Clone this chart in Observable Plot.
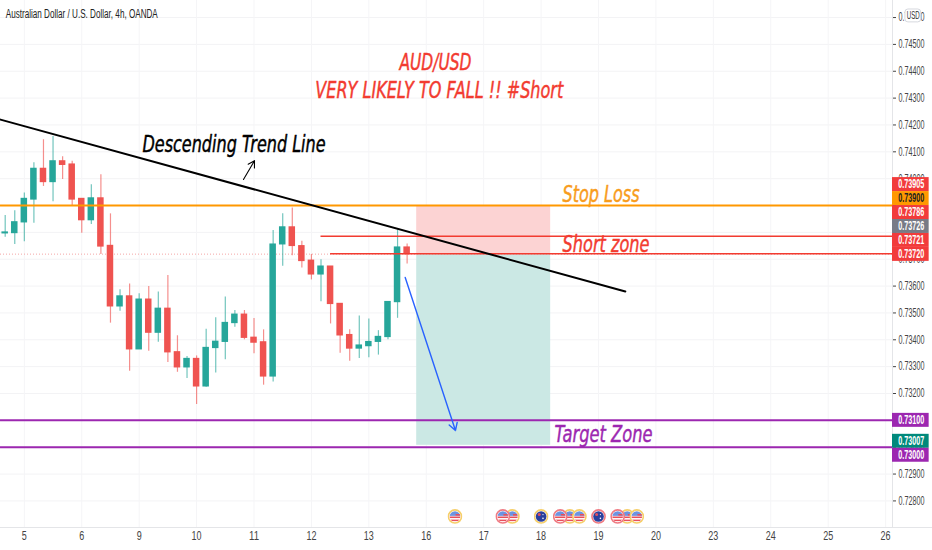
<!DOCTYPE html>
<html><head><meta charset="utf-8">
<script src="https://cdn.jsdelivr.net/npm/d3@7"></script>
<script src="https://cdn.jsdelivr.net/npm/@observablehq/plot@0.6"></script>
<style>html,body{margin:0;padding:0;background:#fff}svg{display:block}</style>
</head><body><div id="c"></div>
<script>
const opens  = [0.73796,0.73797,0.73837,0.73922,0.74037,0.73987,0.74065,0.74053,0.73925,0.73845,0.73927,0.73750,0.73524,0.73562,0.73364,0.73550,0.73426,0.73516,0.73354,0.73297,0.73329,0.73226,0.73369,0.73392,0.73462,0.73494,0.73408,0.73391,0.73263,0.73755,0.73819,0.73749,0.73695,0.73643,0.73673,0.73534,0.73418,0.73367,0.73376,0.73392,0.73410,0.73540,0.73744];
const closes = [0.73800,0.73838,0.73925,0.74037,0.73987,0.74065,0.74051,0.73922,0.73845,0.73927,0.73747,0.73524,0.73562,0.73364,0.73550,0.73426,0.73516,0.73353,0.73297,0.73329,0.73226,0.73370,0.73393,0.73463,0.73494,0.73407,0.73389,0.73263,0.73755,0.73819,0.73749,0.73693,0.73643,0.73673,0.73533,0.73416,0.73367,0.73379,0.73392,0.73411,0.73541,0.73744,0.73719];
const highs  = [0.73863,0.73881,0.73947,0.74059,0.74145,0.74157,0.74082,0.74065,0.73925,0.73977,0.74015,0.73869,0.73586,0.73608,0.73571,0.73598,0.73578,0.73639,0.73415,0.73338,0.73340,0.73439,0.73482,0.73559,0.73509,0.73509,0.73479,0.73437,0.73807,0.73869,0.73891,0.73767,0.73718,0.73698,0.73673,0.73534,0.73437,0.73489,0.73477,0.73434,0.73541,0.73809,0.73757];
const lows   = [0.73782,0.73755,0.73765,0.73834,0.73971,0.73914,0.73997,0.73900,0.73797,0.73829,0.73718,0.73462,0.73506,0.73283,0.73364,0.73357,0.73391,0.73315,0.73279,0.73256,0.73159,0.73223,0.73276,0.73326,0.73447,0.73400,0.73348,0.73231,0.73243,0.73674,0.73713,0.73667,0.73623,0.73542,0.73459,0.73350,0.73320,0.73330,0.73333,0.73343,0.73400,0.73480,0.73682];
const candles = opens.map((o,i)=>({i,o,c:closes[i],h:highs[i],l:lows[i]}));

const dayBars = [2,8,14,20,26,32,38,44,50,56,62,68,74,80,86,92];
const dayLabels = ["5","6","9","10","11","12","13","16","17","18","19","20","23","24","25","26"];
const priceTicks = [0.728,0.729,0.730,0.731,0.732,0.733,0.734,0.735,0.736,0.737,0.738,0.739,0.740,0.741,0.742,0.743,0.744,0.745,0.746];

const levels = [
 {p:0.7390,x1:-0.49,c:"#ff9800",w:2},
 {p:0.73786,x1:33,c:"#f23b30",w:1.5},
 {p:0.7372,x1:34,c:"#f23b30",w:1.5},
 {p:0.7310,x1:-0.49,c:"#9c27b0",w:2},
 {p:0.7300,x1:-0.49,c:"#9c27b0",w:2}
];
const priceTags = [
 {t:"0.73905",p:0.73978,bg:"#f23b3b",fg:"#fff"},
 {t:"0.73900",p:0.73926,bg:"#ff9800",fg:"#222"},
 {t:"0.73786",p:0.73874,bg:"#f23b3b",fg:"#fff"},
 {t:"0.73726",p:0.73822,bg:"#787b86",fg:"#fff"},
 {t:"0.73721",p:0.73770,bg:"#f23b3b",fg:"#fff"},
 {t:"0.73720",p:0.73718,bg:"#f23b3b",fg:"#fff"},
 {t:"0.73100",p:0.73100,bg:"#9c27b0",fg:"#fff"},
 {t:"0.73007",p:0.73022,bg:"#00897b",fg:"#fff"},
 {t:"0.73000",p:0.72970,bg:"#9c27b0",fg:"#fff"}
];
const notes = [
 {t:"Descending Trend Line",i:14.35,p:0.74127,c:"#000"},
 {t:"Stop Loss",i:58.24,p:0.73941,c:"#f89c1c"},
 {t:"Short zone",i:58.24,p:0.73755,c:"#f23b30"},
 {t:"Target Zone",i:57.4,p:0.73047,c:"#9c27b0"},
 {t:"AUD/USD",i:41.2,p:0.74433,c:"#f23b30"},
 {t:"VERY LIKELY TO FALL !! #Short",i:32.4,p:0.74328,c:"#f23b30"}
];
const noteWidths = {"Descending Trend Line":183,"Stop Loss":77,"Short zone":87,"Target Zone":98,"AUD/USD":72,"VERY LIKELY TO FALL !! #Short":248,"Australian Dollar / U.S. Dollar, 4h, OANDA":152,"USD":13};
const usEvents = [47,53,59,60,65,66];
const usHigh = [52,58,64];
const auEvents = [56,62];

const flag = (kind, ring) => {
  const body = kind === "au"
    ? `<circle cx='12' cy='12' r='8.5' fill='#2a3f9d'/><circle cx='9' cy='9' r='2.4' fill='#e05060'/><circle cx='15' cy='15' r='1.3' fill='#fff'/><circle cx='15' cy='9' r='1' fill='#fff'/>`
    : `<clipPath id='k'><circle cx='12' cy='12' r='8.5'/></clipPath><g clip-path='url(#k)'><rect width='24' height='24' fill='#fff'/><rect y='12' width='24' height='2.5' fill='#e8505b'/><rect y='17' width='24' height='2.5' fill='#e8505b'/><rect y='3' width='24' height='8' fill='#6d93e0'/><rect x='13' y='8' width='11' height='2.5' fill='#e8505b'/></g>`;
  const svg = `<svg xmlns='http://www.w3.org/2000/svg' width='24' height='24'><circle cx='12' cy='12' r='10.5' fill='#fff' stroke='${ring}' stroke-width='2.6'/>${body}</svg>`;
  return "data:image/svg+xml," + encodeURIComponent(svg);
};

const XMIN=-0.491, XMAX=92.72, YBOT=0.72701, YTOP=0.746635;
const xTagL=92.72, xTagR=96.55, tagH=0.00026;
const font = "'Liberation Sans',sans-serif";

const chart = Plot.plot({
  width:932, height:550, marginTop:0, marginLeft:0, marginRight:40, marginBottom:23,
  style:{background:"#fff",fontFamily:font},
  x:{type:"linear",domain:[XMIN,XMAX]},
  y:{type:"linear",domain:[YBOT,YTOP]},
  marks:[
    Plot.ruleY(priceTicks,{stroke:"#f3f3f5",strokeWidth:1}),
    Plot.ruleX(dayBars,{stroke:"#f5f5f7",strokeWidth:1}),
    Plot.rect([{a:43,b:57,p1:0.7372,p2:0.7390}],{x1:"a",x2:"b",y1:"p1",y2:"p2",fill:"#fcd3d3"}),
    Plot.rect([{a:43,b:57,p1:0.73007,p2:0.7372}],{x1:"a",x2:"b",y1:"p1",y2:"p2",fill:"#cbe8e4"}),
    Plot.ruleY([0.73719],{stroke:"#f4a6a6",strokeWidth:1,strokeDasharray:"1,2"}),
    Plot.axisX({ticks:dayBars,anchor:"bottom",tickFormat:d=>dayLabels[dayBars.indexOf(d)],tickSize:0,tickPadding:4,fontSize:12,color:"#444"}),
    Plot.axisY({ticks:priceTicks,anchor:"right",tickFormat:d3.format(".5f"),tickSize:3,tickPadding:3,fontSize:12,color:"#444",label:null}),
    Plot.ruleX([XMAX],{stroke:"#e4e5e8"}),
    Plot.ruleY([YBOT],{x1:XMIN,x2:XMAX+4.3,stroke:"#e4e5e8"}),
    Plot.ruleX(candles,{x:"i",y1:"l",y2:"h",stroke:d=>d.c>=d.o?"#26a69a":"#ef5350",strokeOpacity:0.65,strokeWidth:1.2}),
    Plot.rect(candles,{x1:d=>d.i-0.34,x2:d=>d.i+0.34,y1:d=>Math.min(d.o,d.c),y2:d=>Math.max(d.o,d.c),fill:d=>d.c>=d.o?"#26a69a":"#ef5350",insetTop:-0.5,insetBottom:-0.5}),
    Plot.ruleY(levels,{x1:"x1",x2:XMAX,y:"p",stroke:"c",strokeWidth:"w"}),
    Plot.line([{i:-0.49,p:0.7422},{i:64.8,p:0.7358}],{x:"i",y:"p",stroke:"#000",strokeWidth:2}),
    Plot.arrow([{a:41.8,p1:0.73632,b:47.05,p2:0.73062}],{x1:"a",y1:"p1",x2:"b",y2:"p2",stroke:"#2962ff",strokeWidth:1.4,headLength:9,bend:false}),
    Plot.arrow([{a:24.9,p1:0.73997,b:26.05,p2:0.74067}],{x1:"a",y1:"p1",x2:"b",y2:"p2",stroke:"#000",strokeWidth:1.1,headLength:10,bend:false}),
    Plot.rect(priceTags,{x1:xTagL,x2:xTagR,y1:d=>d.p-tagH,y2:d=>d.p+tagH,fill:"bg"}),
    Plot.text(priceTags,{x:xTagL+0.6,y:"p",text:"t",fill:"fg",textAnchor:"start",fontSize:12,fontWeight:"bold"}),
    Plot.rect([{p:0.74606}],{x1:XMAX+1.35,x2:XMAX+3,y1:d=>d.p-0.00024,y2:d=>d.p+0.00024,fill:"#fff",stroke:"#d6d8de",rx:3}),
    Plot.text(["USD"],{x:XMAX+2.17,y:0.74606,text:d=>d,fontSize:10,fill:"#333"}),
    Plot.text(notes,{x:"i",y:"p",text:"t",fill:"c",stroke:"c",strokeWidth:0.45,fontSize:23,textAnchor:"start",fontStyle:"italic",fontFamily:"'DejaVu Sans Condensed','DejaVu Sans',sans-serif"}),
    Plot.text(["Australian Dollar / U.S. Dollar, 4h, OANDA"],{x:XMIN+0.55,y:0.74612,text:d=>d,fontSize:12,textAnchor:"start",fill:"#222"}),
    Plot.image(usEvents,{x:d=>d,y:0.72742,width:15,height:15,src:()=>flag("us","#f6cf6a")}),
    Plot.image(auEvents,{x:d=>d,y:0.72742,width:15,height:15,src:(d,i)=>flag("au",i===0?"#f6cf6a":"#ef7b83")}),
    Plot.image(usHigh,{x:d=>d,y:0.72742,width:15,height:15,src:()=>flag("us","#ef7b83")})
  ]
});
document.getElementById("c").appendChild(chart);
// The reference's lettering is condensed: fit each label to the width it has there.
chart.querySelectorAll("text").forEach(t=>{
  const s=t.textContent.trim();
  const w=noteWidths[s] ?? (/^0\.\d{5}$/.test(s)?26:null);
  if(w){t.setAttribute("textLength",w);t.setAttribute("lengthAdjust","spacingAndGlyphs");}
  else if(/^\d+$/.test(s)){t.setAttribute("textLength",s.length*5);t.setAttribute("lengthAdjust","spacingAndGlyphs");}
});
</script></body></html>
